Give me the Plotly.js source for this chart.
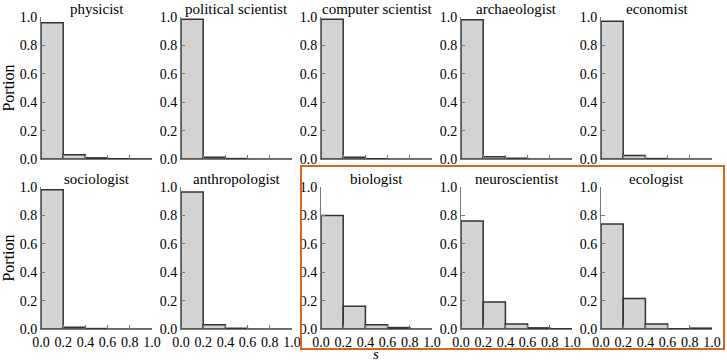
<!DOCTYPE html>
<html>
<head>
<meta charset="utf-8">
<script src="https://cdn.plot.ly/plotly-3.0.1.min.js"></script>
<style>
  html, body { margin: 0; padding: 0; background: #fff; }
  #chart { width: 727px; height: 363px; }
</style>
</head>
<body>
<div id="chart"></div>
<script>
// histogram of s per field, 5 bins of width 0.2
let binCenters = [0.1, 0.3, 0.5, 0.7, 0.9];
let fields = ['physicist', 'political scientist', 'computer scientist', 'archaeologist', 'economist',
              'sociologist', 'anthropologist', 'biologist', 'neuroscientist', 'ecologist'];

let physicist       = [0.96, 0.03, 0.008, 0.002, 0.001];
let politicalSci    = [0.985, 0.012, 0.003, 0, 0];
let computerSci     = [0.985, 0.012, 0.002, 0, 0];
let archaeologist   = [0.98, 0.015, 0.005, 0, 0];
let economist       = [0.97, 0.025, 0.003, 0, 0];
let sociologist     = [0.98, 0.012, 0.003, 0, 0];
let anthropologist  = [0.965, 0.03, 0.005, 0, 0];
let biologist       = [0.80, 0.16, 0.03, 0.01, 0];
let neuroscientist  = [0.76, 0.19, 0.035, 0.008, 0.002];
let ecologist       = [0.74, 0.215, 0.035, 0.002, 0.006];

let portions = [physicist, politicalSci, computerSci, archaeologist, economist,
                sociologist, anthropologist, biologist, neuroscientist, ecologist];

let yTicks = [0, 0.2, 0.4, 0.6, 0.8, 1.0];
let xTicks = [0, 0.2, 0.4, 0.6, 0.8, 1.0];

// panel placement in pixels
var W = 727, H = 363;
var colLeft = [41, 181, 321, 461, 601];
var panelW = 111;
var rowTop = [17, 187];
var panelH = 142;
var font = '"Liberation Serif", "Times New Roman", serif';
var ink = '#000';

var data = [];
var layout = {
  width: W,
  height: H,
  margin: {l: 0, r: 0, t: 0, b: 0},
  paper_bgcolor: 'white',
  plot_bgcolor: 'white',
  showlegend: false,
  bargap: 0,
  font: {family: font, size: 14, color: ink},
  annotations: [],
  shapes: []
};

for (let i = 0; i < fields.length; i++) {
  let row = Math.floor(i / 5), col = i % 5;
  let n = i + 1;
  let xa = n === 1 ? 'x' : 'x' + n;
  let ya = n === 1 ? 'y' : 'y' + n;

  data.push({
    type: 'bar',
    x: binCenters,
    y: portions[i],
    width: 0.2,
    xaxis: xa,
    yaxis: ya,
    marker: {color: '#d3d3d3', line: {color: '#333', width: 1.5}},
    hoverinfo: 'y'
  });

  let x0 = colLeft[col] / W, x1 = (colLeft[col] + panelW) / W;
  let y1 = 1 - rowTop[row] / H, y0 = 1 - (rowTop[row] + panelH) / H;

  layout['xaxis' + (n === 1 ? '' : n)] = {
    domain: [x0, x1],
    anchor: ya,
    range: [0, 1.0],
    tickvals: xTicks,
    ticktext: xTicks.map(v => v.toFixed(1)),
    showticklabels: row === 1,
    ticks: 'inside',
    ticklen: 4,
    tickcolor: '#777',
    showline: true,
    linecolor: '#777',
    linewidth: 1,
    showgrid: false,
    zeroline: false,
    fixedrange: true,
    tickfont: {family: font, size: 14, color: ink}
  };
  layout['yaxis' + (n === 1 ? '' : n)] = {
    domain: [y0, y1],
    anchor: xa,
    range: [0, 1.0],
    tickvals: yTicks,
    ticktext: yTicks.map(v => v.toFixed(1)),
    ticks: 'inside',
    ticklen: 4,
    tickcolor: '#777',
    showline: true,
    linecolor: '#777',
    linewidth: 1,
    showgrid: false,
    zeroline: false,
    fixedrange: true,
    tickfont: {family: font, size: 14, color: ink}
  };
  if (col === 0) {
    layout['yaxis' + (n === 1 ? '' : n)].title = {text: 'Portion', font: {family: font, size: 16, color: ink}, standoff: 3};
  }

  layout.annotations.push({
    text: fields[i],
    xref: 'paper', yref: 'paper',
    x: (x0 + x1) / 2, y: y1,
    xanchor: 'center', yanchor: 'bottom',
    yshift: -2,
    showarrow: false,
    font: {family: font, size: 15, color: ink}
  });
}

// x label under the highlighted group
layout.annotations.push({
  text: '<i>s</i>',
  xref: 'paper', yref: 'paper',
  x: 376 / W, y: 1 - 354 / H,
  xanchor: 'center', yanchor: 'middle',
  showarrow: false,
  font: {family: font, size: 15, color: ink}
});

// orange frame around biologist / neuroscientist / ecologist
layout.shapes.push({
  type: 'rect',
  xref: 'paper', yref: 'paper',
  x0: 301 / W, x1: 724 / W,
  y0: 1 - 349 / H, y1: 1 - 166 / H,
  line: {color: '#d9661f', width: 2}
});

Plotly.newPlot('chart', data, layout, {displayModeBar: false, staticPlot: true});
</script>
</body>
</html>
